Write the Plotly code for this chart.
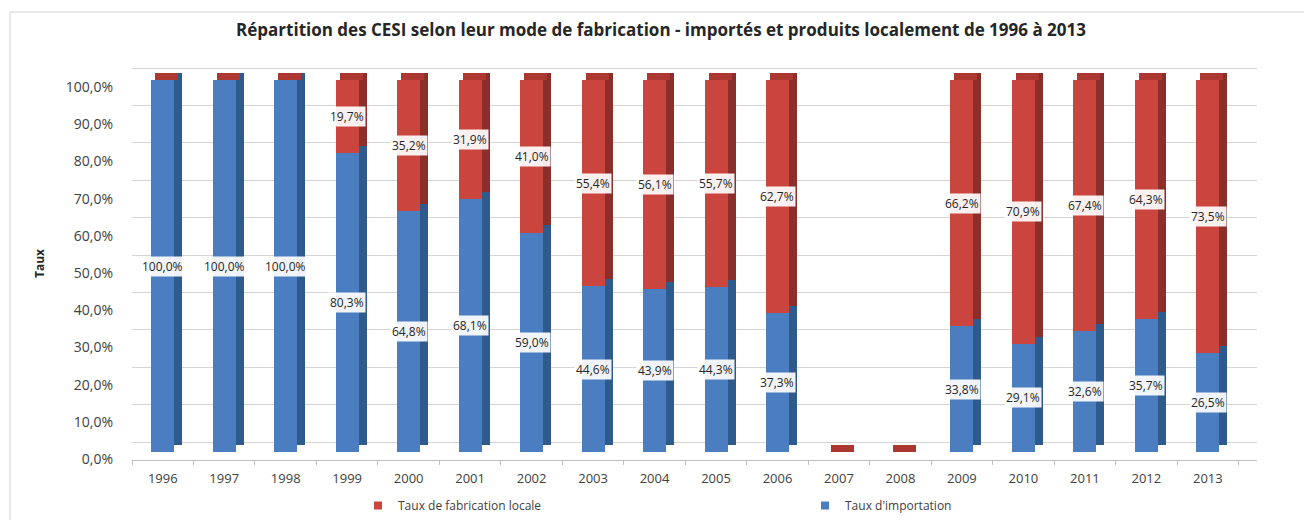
import plotly.graph_objects as go

# ---- data ----
years = ["1996", "1997", "1998", "1999", "2000", "2001", "2002", "2003", "2004",
         "2005", "2006", "2007", "2008", "2009", "2010", "2011", "2012", "2013"]
taux_importation = [100.0, 100.0, 100.0, 80.3, 64.8, 68.1, 59.0, 44.6, 43.9,
                    44.3, 37.3, 0.0, 0.0, 33.8, 29.1, 32.6, 35.7, 26.5]
taux_fabrication_locale = [0.0, 0.0, 0.0, 19.7, 35.2, 31.9, 41.0, 55.4, 56.1,
                           55.7, 62.7, 0.0, 0.0, 66.2, 70.9, 67.4, 64.3, 73.5]
y_ticks = [0, 10, 20, 30, 40, 50, 60, 70, 80, 90, 100]

title = "Répartition des CESI selon leur mode de fabrication - importés et produits localement de 1996 à 2013"
name_local = "Taux de fabrication locale"
name_import = "Taux d'importation"

PCT = chr(37)


def fmt(v):
    return f"{v:.1f}".replace(".", ",") + PCT


y_ticktext = [fmt(v) for v in y_ticks]

# ---- style ----
FONT = "Open Sans"
BLUE, BLUE_SIDE = "#4A7EC0", "#2F5A8E"
RED, RED_SIDE, RED_TOP = "#C9453E", "#8C2E29", "#AD3832"
DEPTH = 1.9          # pseudo-3D depth, in value units
W_FRONT = 0.374
OFF_FRONT = -0.187
OFF_BACK = -0.057
OFF_TOP = -0.122

W, H = 1304, 512
L, R, T, B = 124, 55, 52, 60

n = len(years)
totals = [a + b for a, b in zip(taux_importation, taux_fabrication_locale)]
base_back_imp = [DEPTH] * n
base_back_loc = [v + DEPTH for v in taux_importation]

fig = go.Figure()
# back (side / depth) faces
fig.add_trace(go.Bar(x=years, y=taux_importation, base=base_back_imp, width=W_FRONT,
                     offset=OFF_BACK, marker=dict(color=BLUE_SIDE, line=dict(width=0)),
                     showlegend=False, hoverinfo="skip"))
fig.add_trace(go.Bar(x=years, y=taux_fabrication_locale, base=base_back_loc, width=W_FRONT,
                     offset=OFF_BACK, marker=dict(color=RED_SIDE, line=dict(width=0)),
                     showlegend=False, hoverinfo="skip"))
# top caps (top face of the upper series)
fig.add_trace(go.Bar(x=years, y=[DEPTH] * n, base=totals, width=W_FRONT,
                     offset=OFF_TOP, marker=dict(color=RED_TOP, line=dict(width=0)),
                     showlegend=False, hoverinfo="skip"))
# front faces
fig.add_trace(go.Bar(x=years, y=taux_importation, base=[0] * n, width=W_FRONT,
                     offset=OFF_FRONT, name=name_import, showlegend=False,
                     marker=dict(color=BLUE, line=dict(width=0))))
fig.add_trace(go.Bar(x=years, y=taux_fabrication_locale, base=taux_importation,
                     width=W_FRONT, offset=OFF_FRONT, name=name_local, showlegend=False,
                     marker=dict(color=RED, line=dict(width=0))))

# legend entries (small square markers like the original)
fig.add_trace(go.Scatter(x=[None], y=[None], mode="markers", name=name_local,
                         marker=dict(symbol="square", size=8, color=RED)))
fig.add_trace(go.Scatter(x=[None], y=[None], mode="markers", name=name_import,
                         marker=dict(symbol="square", size=8, color=BLUE)))

# helper invisible traces so that the overlay axes (back-wall grid, tick labels) are drawn
fig.add_trace(go.Scatter(x=years, y=taux_importation, yaxis="y2", mode="markers",
                         marker=dict(opacity=0), showlegend=False, hoverinfo="skip"))
fig.add_trace(go.Scatter(x=years, y=taux_importation, yaxis="y3", mode="markers",
                         marker=dict(opacity=0), showlegend=False, hoverinfo="skip"))

annotations = []
for i in range(n):
    if taux_importation[i] > 0:
        annotations.append(dict(x=i, y=taux_importation[i] / 2, xref="x", yref="y",
                                text=fmt(taux_importation[i]), showarrow=False,
                                bgcolor="rgba(255,255,255,0.92)", borderpad=1,
                                font=dict(family=FONT, size=12, color="#262626")))
    if taux_fabrication_locale[i] > 0:
        annotations.append(dict(x=i,
                                y=taux_importation[i] + taux_fabrication_locale[i] / 2,
                                xref="x", yref="y",
                                text=fmt(taux_fabrication_locale[i]), showarrow=False,
                                bgcolor="rgba(255,255,255,0.92)", borderpad=1,
                                font=dict(family=FONT, size=12, color="#262626")))

# y-axis title
annotations.append(dict(x=-0.092, y=0.49, xref="paper", yref="paper", text="<b>Taux</b>",
                        textangle=-90, showarrow=False,
                        font=dict(family=FONT, size=12, color="#262626")))

fig.update_layout(
    width=W, height=H,
    margin=dict(l=L, r=R, t=T, b=B, autoexpand=False),
    paper_bgcolor="white", plot_bgcolor="white",
    separators=", ",
    barmode="overlay", bargap=0,
    font=dict(family=FONT, size=12, color="#404040"),
    title=dict(text="<b>" + title + "</b>", x=0.5008, xanchor="center",
               y=1 - 22 / H, yanchor="middle", yref="container",
               font=dict(family=FONT, size=17, color="#262626")),
    xaxis=dict(type="category", range=[-0.5, 17.8], showgrid=False,
               showline=True, linecolor="#BFBFBF", linewidth=1,
               ticks="outside", tickson="boundaries", ticklen=4, tickcolor="#BFBFBF",
               ticklabelstandoff=6, automargin=False,
               tickfont=dict(family=FONT, size=13, color="#404040"), zeroline=False),
    yaxis=dict(range=[-2.15, 105.38], showgrid=False, showticklabels=False,
               zeroline=False, ticks="", automargin=False),
    yaxis2=dict(overlaying="y", range=[-4.81, 102.14], tickvals=y_ticks,
                showgrid=True, gridcolor="#D4D4D4", gridwidth=1, automargin=False,
                showticklabels=False, zeroline=False, ticks="", side="left"),
    yaxis3=dict(overlaying="y", range=[-0.27, 107.26], tickvals=y_ticks,
                ticktext=y_ticktext, showgrid=False, zeroline=False, automargin=False,
                ticks="", ticklabelstandoff=18, side="left",
                tickfont=dict(family=FONT, size=14, color="#404040")),
    legend=dict(orientation="h", x=0.2009, xanchor="left", y=-0.016, yanchor="bottom",
                yref="container", entrywidth=402, entrywidthmode="pixels",
                font=dict(family=FONT, size=12, color="#404040"),
                bgcolor="rgba(0,0,0,0)"),
    annotations=annotations,
    shapes=[dict(type="rect", xref="paper", yref="paper",
                 x0=(2 - L) / 1125, x1=(1297 - L) / 1125,
                 y0=(452 - 540) / 400, y1=(452 - 4) / 400,
                 line=dict(color="#D0D0D0", width=1), fillcolor="rgba(0,0,0,0)",
                 layer="below")],
)

fig.write_html("out.html")
